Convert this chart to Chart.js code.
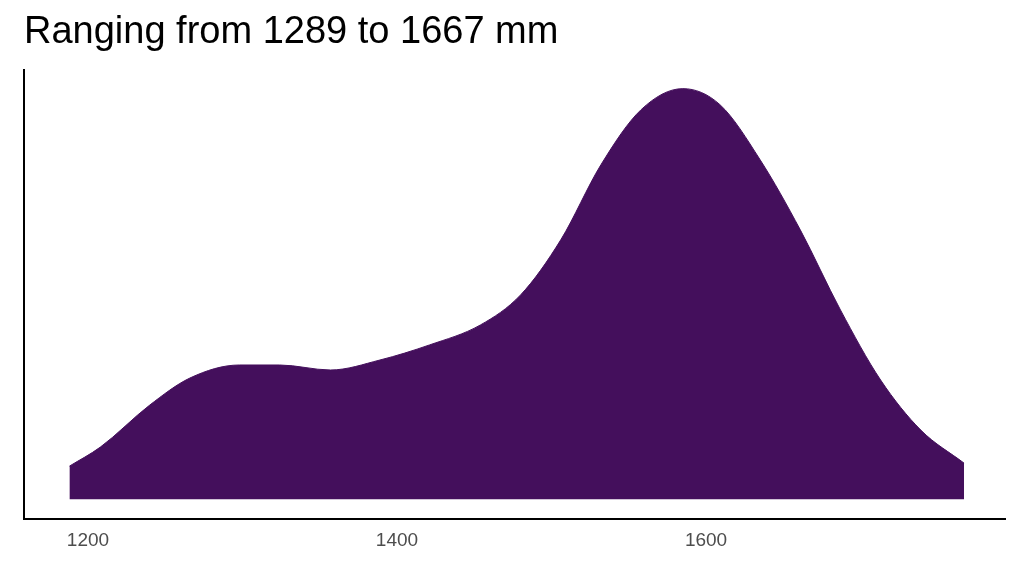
<!DOCTYPE html>
<html>
<head>
<meta charset="utf-8">
<script src="https://cdn.jsdelivr.net/npm/chart.js@4"></script>
<style>
  html, body { margin: 0; padding: 0; background: #fff; }
  #wrap { width: 1024px; height: 576px; }
</style>
</head>
<body>
<div id="wrap"><canvas id="grafico"></canvas></div>
<script>
// rainfall (mm) and estimated density height (arbitrary units)
const lluvia = [1188, 1208, 1240, 1266, 1298, 1324, 1357, 1389, 1421, 1454, 1480, 1506, 1532, 1558, 1585, 1609, 1635, 1661, 1687, 1713, 1739, 1767];
const densidad = [33, 52, 94, 121, 134, 134, 129, 139, 154, 174, 204, 259, 334, 389, 410, 394, 339, 269, 189, 119, 69, 36];
const ticksX = [1200, 1400, 1600];

const puntos = lluvia.map((x, i) => ({ x: x, y: densidad[i] }));

new Chart(document.getElementById("grafico"), {
  type: "line",
  data: {
    datasets: [{
      data: puntos,
      fill: "origin",
      backgroundColor: "#440F5C",
      borderColor: "#440F5C",
      borderWidth: 1,
      pointRadius: 0,
      tension: 0.4,
      cubicInterpolationMode: "monotone"
    }]
  },
  options: {
    responsive: true,
    maintainAspectRatio: false,
    animation: false,
    layout: { padding: { left: 24, right: 19, top: 0, bottom: 20 } },
    plugins: {
      legend: { display: false },
      tooltip: { enabled: false },
      title: {
        display: true,
        text: "Ranging from 1289 to 1667 mm",
        align: "start",
        color: "#000",
        font: { family: "Liberation Sans, Arial", size: 38, weight: "normal" },
        padding: { top: 10, bottom: 14 }
      }
    },
    scales: {
      x: {
        type: "linear",
        min: 1158.6,
        max: 1793.5,
        afterBuildTicks: axis => { axis.ticks = ticksX.map(v => ({ value: v })); },
        grid: { display: false, drawTicks: true, tickLength: 6, tickColor: "#333" },
        border: { display: true, color: "#000", width: 2 },
        ticks: {
          color: "#4d4d4d",
          font: { family: "Liberation Sans, Arial", size: 19 },
          padding: 4,
          callback: v => String(v)
        }
      },
      y: {
        min: -20,
        max: 429,
        grid: { display: false, drawTicks: false },
        border: { display: true, color: "#000", width: 2 },
        ticks: { display: false }
      }
    }
  }
});
</script>
</body>
</html>
